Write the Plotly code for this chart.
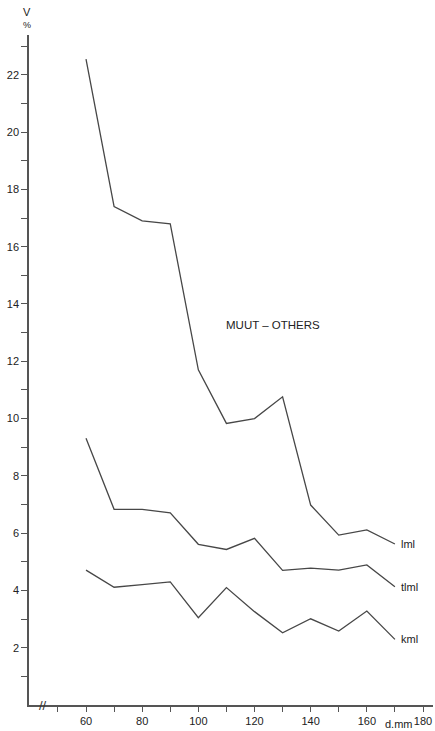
import plotly.graph_objects as go

# Diameter classes (mm)
d_mm = [60, 70, 80, 90, 100, 110, 120, 130, 140, 150, 160, 170]

# Coefficient of variation V (%) per method, species group "muut - others"
lml = [22.55, 17.4, 16.9, 16.8, 11.7, 9.83, 10.0, 10.76, 6.98, 5.93, 6.11, 5.62]
tlml = [9.31, 6.83, 6.83, 6.71, 5.61, 5.43, 5.82, 4.70, 4.78, 4.71, 4.89, 4.13]
kml = [4.71, 4.11, 4.2, 4.30, 3.05, 4.10, 3.26, 2.52, 3.01, 2.58, 3.28, 2.29]

series_names = ["lml", "tlml", "kml"]
series_values = [lml, tlml, kml]

# Axis ticks
x_ticks = list(range(50, 181, 10))
x_ticktext = [str(v) if v % 20 == 0 and v >= 60 else "" for v in x_ticks]
y_ticks = list(range(1, 24))
y_ticktext = [str(v) if v % 2 == 0 else "" for v in y_ticks]

INK = "#474747"
TEXT = "#222"
FONT = "Liberation Sans"

fig = go.Figure()
for name, vals in zip(series_names, series_values):
    fig.add_trace(go.Scatter(
        x=d_mm, y=vals, mode="lines", name=name,
        line=dict(color=INK, width=1.3),
        showlegend=False, hoverinfo="skip",
    ))
    # series label at the right end of each curve
    fig.add_annotation(
        x=d_mm[-1] + 1.3, y=vals[-1], text=name, showarrow=False,
        xanchor="left", yanchor="middle",
        font=dict(family=FONT, size=11, color=TEXT),
    )

fig.add_annotation(
    x=126.5, y=13.25, text="MUUT \u2013 OTHERS", showarrow=False,
    xanchor="center", yanchor="middle",
    font=dict(family=FONT, size=11.5, color=TEXT),
)

# axis titles
fig.add_annotation(
    xref="paper", yref="paper", x=-0.005, y=1.034, text="V",
    showarrow=False, xanchor="center", yanchor="middle",
    font=dict(family=FONT, size=11, color=TEXT),
)
fig.add_annotation(
    xref="paper", yref="paper", x=-0.005, y=1.015, text="%",
    showarrow=False, xanchor="center", yanchor="middle",
    font=dict(family=FONT, size=9, color=TEXT),
)
fig.add_annotation(
    xref="paper", yref="paper", x=0.915, y=-0.028, text="d.mm",
    showarrow=False, xanchor="center", yanchor="middle",
    font=dict(family=FONT, size=11, color=TEXT),
)
# axis break mark
fig.add_annotation(
    x=44.8, y=0, text="//", showarrow=False,
    xanchor="center", yanchor="middle",
    font=dict(family=FONT, size=13, color="#333"),
)

fig.update_xaxes(
    range=[39.7, 183.56], showgrid=False, zeroline=False,
    showline=True, linecolor="#555", linewidth=1.5,
    tickmode="array", tickvals=x_ticks, ticktext=x_ticktext,
    ticks="outside", ticklen=5, tickcolor="#555", tickwidth=1.2,
    tickfont=dict(family=FONT, size=11, color=TEXT),
)
fig.update_yaxes(
    range=[0, 23.39], showgrid=False, zeroline=False,
    showline=True, linecolor="#555", linewidth=1.5,
    tickmode="array", tickvals=y_ticks, ticktext=y_ticktext,
    ticks="outside", ticklen=6, tickcolor="#555", tickwidth=1.2,
    tickfont=dict(family=FONT, size=11, color=TEXT),
)

fig.update_layout(
    width=435, height=731, autosize=False,
    margin=dict(l=29, r=2, t=35, b=26),
    paper_bgcolor="white", plot_bgcolor="white",
)

fig.write_html("out.html")
